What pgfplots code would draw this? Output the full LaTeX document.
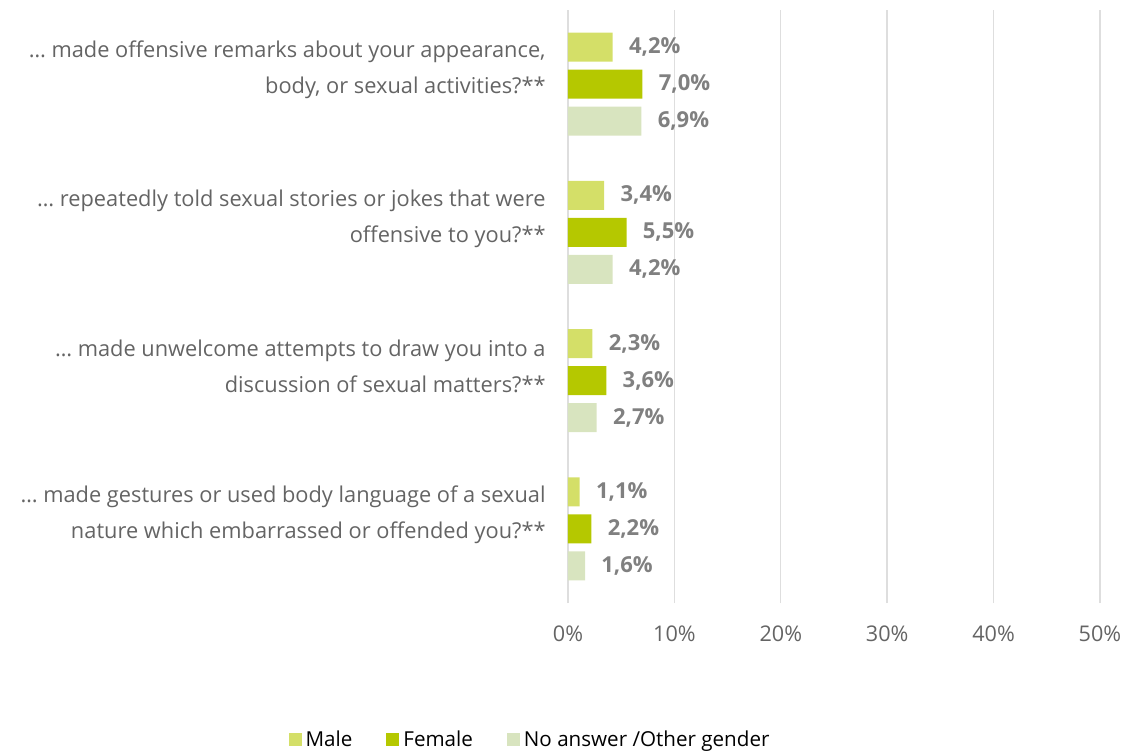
\documentclass[border=0pt]{standalone}
\usepackage{pgfplots}
\pgfplotsset{compat=1.18}
\usepackage{fontspec}
\setmainfont{Open Sans}
\definecolor{cMale}{RGB}{212,223,104}
\definecolor{cFemale}{RGB}{181,200,0}
\definecolor{cOther}{RGB}{216,228,191}
\definecolor{labgray}{RGB}{100,100,100}
\definecolor{valgray}{RGB}{128,128,128}
\definecolor{gridgray}{RGB}{222,222,222}
\begin{document}
\begin{tikzpicture}
\useasboundingbox (-284pt,-74pt) rectangle (282pt,301.5pt);
\begin{axis}[
  at={(0,0)}, anchor=south west,
  scale only axis, width=266pt, height=296.5pt,
  xbar, bar width=0.196,
  xmin=0, xmax=50, ymin=-0.5, ymax=3.5,
  xtick={0,10,20,30,40,50},
  xticklabels={0\%,10\%,20\%,30\%,40\%,50\%},
  ytick={0,1,2,3},
  yticklabels={
    {\dots\ made gestures or used body language of a sexual\\nature which embarrassed or offended you?**},
    {\dots\ made unwelcome attempts to draw you into a\\discussion of sexual matters?**},
    {\dots\ repeatedly told sexual stories or jokes that were\\offensive to you?**},
    {\dots\ made offensive remarks about your appearance,\\body, or sexual activities?**}},
  yticklabel style={align=right, inner sep=0pt, xshift=-11pt, yshift=7pt,
    font=\fontsize{10.9}{18}\selectfont, text=labgray},
  xticklabel style={anchor=north, inner sep=0pt, yshift=-11pt,
    font=\fontsize{10.8}{12}\selectfont, text=labgray},
  major tick length=0pt,
  xmajorgrids, major grid style={gridgray, line width=0.7pt},
  axis line style={draw=none},
  nodes near coords={\pgfmathprintnumber[fixed,fixed zerofill,precision=1,use comma,assume math mode=true]{\pgfplotspointmeta}\%},
  nodes near coords style={anchor=west, inner sep=0pt, xshift=8pt,
    font=\fontsize{11}{12}\selectfont\bfseries, text=valgray},
  legend columns=3,
  legend style={at={(axis description cs:-0.0695,-0.231)}, anchor=center,
    draw=none, fill=none, font=\fontsize{10.3}{12}\selectfont, text=black,
    /tikz/every even column/.append style={column sep=15pt}},
  legend cell align=left,
]
\addplot[fill=cMale, draw=none, bar shift=0.25,
  legend image code/.code={\fill[cMale] (0pt,-3.25pt) rectangle (6.5pt,3.25pt);}]
  coordinates {(4.2,3) (3.4,2) (2.3,1) (1.1,0)};
\addplot[fill=cFemale, draw=none, bar shift=0,
  legend image code/.code={\fill[cFemale] (0pt,-3.25pt) rectangle (6.5pt,3.25pt);}]
  coordinates {(7.0,3) (5.5,2) (3.6,1) (2.2,0)};
\addplot[fill=cOther, draw=none, bar shift=-0.25,
  legend image code/.code={\fill[cOther] (0pt,-3.25pt) rectangle (6.5pt,3.25pt);}]
  coordinates {(6.9,3) (4.2,2) (2.7,1) (1.6,0)};
\legend{Male, Female, No answer /Other gender}
\end{axis}
\end{tikzpicture}
\end{document}
